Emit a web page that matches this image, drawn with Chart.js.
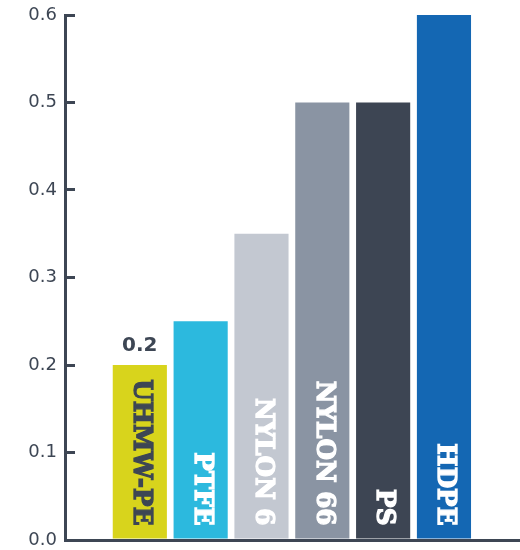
<!DOCTYPE html>
<html>
<head>
<meta charset="utf-8">
<script src="https://cdn.jsdelivr.net/npm/chart.js@4"></script>
<style>
  html, body { margin: 0; padding: 0; background: #fff; }
  #wrap { width: 520px; height: 550px; position: relative; }
</style>
</head>
<body>
<div id="wrap"><canvas id="chartFriccion"></canvas></div>
<script>
// === Datos ===
const materiales = ["UHMW-PE", "PTFE", "NYLON 6", "NYLON 66", "PS", "HDPE"];
const valores = [0.2, 0.25, 0.35, 0.5, 0.5, 0.6];
const ticksY = [0.0, 0.1, 0.2, 0.3, 0.4, 0.5, 0.6];
const mostrarValor = [true, false, false, false, false, false];

// === Colores ===
const oscuro = "#3d4654";
const coloresBarras = ["#d8d41c", "#2cb9de", "#c3c8d1", "#8a94a3", "#3d4553", "#1467b3"];
const coloresTexto = [oscuro, "#fff", "#fff", "#fff", "#fff", "#fff"];

// === Etiquetas dentro y encima de las barras ===
const etiquetasBarras = {
  id: "etiquetasBarras",
  afterDatasetsDraw(chart) {
    const ctx = chart.ctx;
    const barras = chart.getDatasetMeta(0).data;
    barras.forEach((bar, i) => {
      // nombre girado dentro de la barra
      ctx.save();
      ctx.translate(bar.x + 1, bar.base - 13);
      ctx.rotate(Math.PI / 2);
      ctx.scale(0.95, 1);
      ctx.font = "bold 26px 'DejaVu Serif'";
      ctx.fillStyle = coloresTexto[i];
      ctx.strokeStyle = coloresTexto[i];
      ctx.lineWidth = 1.3;
      ctx.lineJoin = "miter";
      ctx.textAlign = "right";
      ctx.textBaseline = "middle";
      ctx.fillText(materiales[i], 0, 0);
      ctx.strokeText(materiales[i], 0, 0);
      ctx.restore();

      // valor encima
      if (mostrarValor[i]) {
        ctx.save();
        ctx.font = "bold 20px 'DejaVu Sans'";
        ctx.fillStyle = oscuro;
        ctx.textAlign = "center";
        ctx.textBaseline = "alphabetic";
        ctx.fillText(valores[i].toFixed(1), bar.x, bar.y - 14);
        ctx.restore();
      }
    });
  }
};

const sinPadding = scale => {
  scale.paddingTop = 0;
  scale.paddingBottom = 0;
  scale.paddingLeft = 0;
  scale.paddingRight = 0;
};

new Chart(document.getElementById("chartFriccion"), {
  type: "bar",
  data: {
    datasets: [{
      data: materiales.map((m, i) => ({ x: i, y: valores[i] })),
      backgroundColor: coloresBarras,
      borderWidth: 0,
      barPercentage: 0.89,
      categoryPercentage: 1
    }]
  },
  options: {
    responsive: true,
    maintainAspectRatio: false,
    animation: false,
    layout: { padding: { top: 15, right: 0, left: 0, bottom: 0 } },
    plugins: {
      legend: { display: false },
      tooltip: { enabled: false }
    },
    scales: {
      x: {
        type: "linear",
        offset: false,
        min: -1.23,
        max: 6.25,
        ticks: { display: false },
        grid: { display: false, drawTicks: false },
        border: { color: oscuro, width: 3 },
        afterFit(scale) { scale.height = 10; sinPadding(scale); }
      },
      y: {
        min: 0,
        max: 0.6,
        afterBuildTicks(scale) {
          scale.ticks = ticksY.map(v => ({ value: v }));
        },
        ticks: {
          color: oscuro,
          padding: 18,
          font: { family: "'DejaVu Sans'", size: 18 },
          callback: v => Number(v).toFixed(1)
        },
        grid: {
          drawOnChartArea: false,
          drawTicks: true,
          tickLength: -10,
          color: oscuro,
          lineWidth: 3
        },
        border: { color: oscuro, width: 3 },
        afterFit(scale) { scale.width = 65; sinPadding(scale); }
      }
    }
  },
  plugins: [etiquetasBarras]
});
</script>
</body>
</html>
